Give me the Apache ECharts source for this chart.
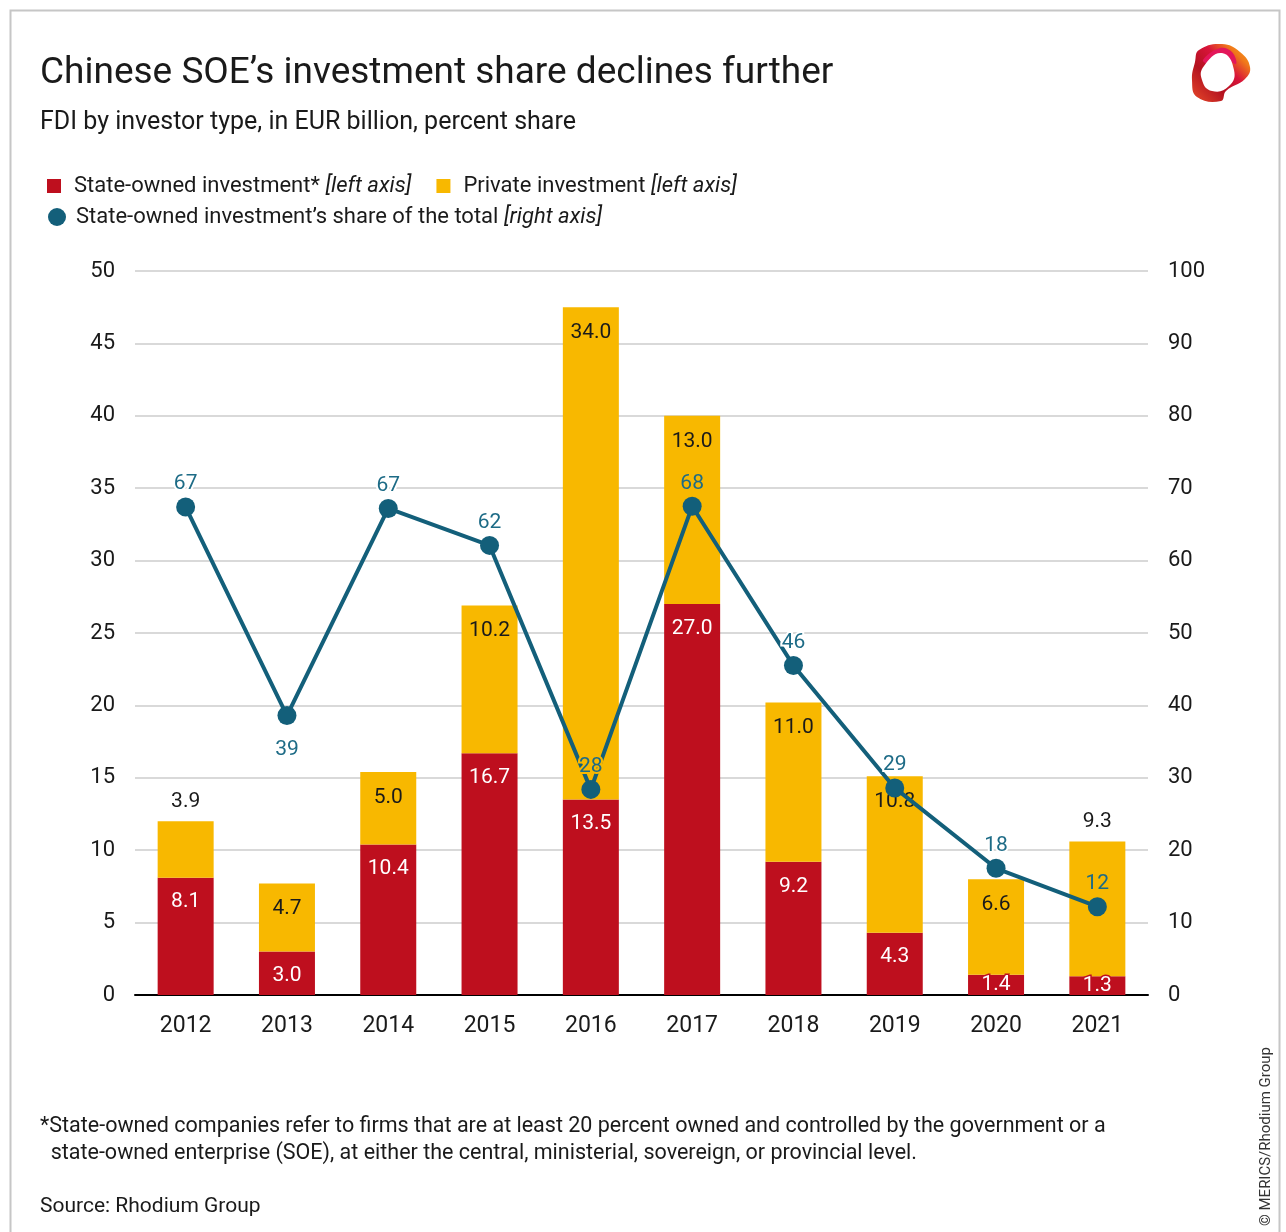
<!DOCTYPE html>
<html>
<head>
<meta charset="utf-8">
<script src="https://cdn.jsdelivr.net/npm/echarts@6/dist/echarts.min.js"></script>
<style>html,body{margin:0;padding:0;background:#fff}#c{width:1286px;height:1232px}</style>
</head>
<body>
<div id="c"></div>
<script>
const years = ['2012','2013','2014','2015','2016','2017','2018','2019','2020','2021'];
const stateOwned = [8.1, 3.0, 10.4, 16.7, 13.5, 27.0, 9.2, 4.3, 1.4, 1.3];
const privateInv = [3.9, 4.7, 5.0, 10.2, 34.0, 13.0, 11.0, 10.8, 6.6, 9.3];
const soeShare = [67.4, 38.6, 67.2, 62.1, 28.4, 67.5, 45.5, 28.6, 17.5, 12.2];
const leftTicks = [0, 50, 5];
const rightTicks = [0, 100, 10];

const RED = '#be0f1e', YEL = '#f8b800', TEAL = '#135f7a', TXT = '#1a1a1a';
const FONT = 'Roboto';

const chart = echarts.init(document.getElementById('c'), null, {renderer: 'canvas'});

const privateAbove = [true, false, false, false, false, false, false, false, false, true];
const smallState = [false, false, false, false, false, false, false, false, true, true];
const shareBelow = [false, true, false, false, false, false, false, false, false, false];
const shareHalo = ['#fff', '#fff', '#fff', '#fff', YEL, YEL, '#fff', '#fff', '#fff', YEL];

const legendRich = {
  a: {fontFamily: FONT, fontSize: 22, color: TXT},
  i: {fontFamily: FONT, fontSize: 22, color: TXT, fontStyle: 'italic'}
};

const option = {
  animation: false,
  backgroundColor: '#fff',
  textStyle: {fontFamily: FONT},
  title: [
    {text: 'Chinese SOE\u2019s investment share declines further', left: 40, top: 55, padding: 0,
     textStyle: {fontFamily: FONT, fontSize: 37, fontWeight: 'normal', color: TXT}},
    {text: 'FDI by investor type, in EUR billion, percent share', left: 40, top: 110, padding: 0,
     textStyle: {fontFamily: FONT, fontSize: 25, fontWeight: 'normal', color: TXT}},
    {text: '*State-owned companies refer to firms that are at least 20 percent owned and controlled by the government or a\n  state-owned enterprise (SOE), at either the central, ministerial, sovereign, or provincial level.',
     left: 40, top: 1113, padding: 0,
     textStyle: {fontFamily: FONT, fontSize: 21.5, fontWeight: 'normal', color: TXT, lineHeight: 27}},
    {text: 'Source: Rhodium Group', left: 40, top: 1196, padding: 0,
     textStyle: {fontFamily: FONT, fontSize: 21, fontWeight: 'normal', color: TXT}}
  ],
  legend: [
    {data: [{name: 'State-owned investment*', icon: 'rect'}, {name: 'Private investment', icon: 'rect'}],
     left: 47, top: 175, padding: 0, itemWidth: 14, itemHeight: 14, itemGap: 25, selectedMode: false,
     formatter: n => '{a|' + n + ' }{i|[left axis]}',
     textStyle: {padding: [0, 0, 0, 8], rich: legendRich}},
    {data: [{name: 'State-owned investment\u2019s share of the total', icon: 'circle'}],
     left: 48, top: 206, padding: 0, itemWidth: 18, itemHeight: 18, selectedMode: false,
     formatter: n => '{a|' + n + ' }{i|[right axis]}',
     textStyle: {padding: [0, 0, 0, 5], rich: legendRich}}
  ],
  grid: {left: 135, right: 138, top: 271, bottom: 237, containLabel: false},
  xAxis: {
    type: 'category', data: years,
    axisLine: {lineStyle: {color: '#000', width: 2}},
    axisTick: {show: false},
    axisLabel: {color: TXT, fontSize: 23, fontFamily: FONT, margin: 20}
  },
  yAxis: [
    {type: 'value', min: leftTicks[0], max: leftTicks[1], interval: leftTicks[2],
     axisLine: {show: false}, axisTick: {show: false},
     axisLabel: {color: TXT, fontSize: 22, fontFamily: FONT, margin: 20},
     splitLine: {lineStyle: {color: '#d9d9d9', width: 2}}},
    {type: 'value', min: rightTicks[0], max: rightTicks[1], interval: rightTicks[2],
     axisLine: {show: false}, axisTick: {show: false},
     axisLabel: {color: TXT, fontSize: 22, fontFamily: FONT, margin: 20},
     splitLine: {show: false}}
  ],
  series: [
    {name: 'State-owned investment*', type: 'bar', stack: 'fdi', barWidth: 56,
     itemStyle: {color: RED},
     data: stateOwned.map((v, i) => ({value: v, label: smallState[i] ?
        {position: 'inside', textBorderColor: RED, textBorderWidth: 3} : {}})),
     label: {show: true, position: 'insideTop', distance: 14, color: '#fff', fontSize: 21, fontFamily: FONT,
       formatter: p => p.value.toFixed(1)}},
    {name: 'Private investment', type: 'bar', stack: 'fdi', barWidth: 56,
     itemStyle: {color: YEL},
     data: privateInv.map((v, i) => ({value: v, label: privateAbove[i] ? {position: 'top', distance: 9} : {}})),
     label: {show: true, position: 'insideTop', distance: 15, color: TXT, fontSize: 21, fontFamily: FONT,
       formatter: p => p.value.toFixed(1)}},
    {name: 'State-owned investment\u2019s share of the total', type: 'line', yAxisIndex: 1, z: 5,
     symbol: 'circle', symbolSize: 19,
     itemStyle: {color: TEAL},
     lineStyle: {color: TEAL, width: 4},
     data: soeShare.map((v, i) => ({value: v, label: {
        position: shareBelow[i] ? 'bottom' : 'top', distance: shareBelow[i] ? 14 : 3,
        textBorderColor: shareHalo[i], textBorderWidth: 4}})),
     label: {show: true, color: '#1d6b86', fontSize: 21, fontFamily: FONT,
       formatter: p => String(Math.round(p.value))}}
  ],
  graphic: [
    {type: 'rect', shape: {x: 10.5, y: 10.5, width: 1269, height: 1260}, z: -10,
     style: {fill: 'none', stroke: '#c6c6c6', lineWidth: 2}},
    {type: 'polygon', z: 1,
     shape: {smooth: 0.45, points: [[1199, 50], [1222, 44], [1240, 52], [1250, 67], [1245, 79], [1226, 91],
       [1221, 101], [1197, 97], [1192, 80], [1195, 62]]},
     style: {fill: new echarts.graphic.LinearGradient(0, 1, 1, 0, [
       {offset: 0, color: '#e84a2a'}, {offset: 0.35, color: '#b3121f'},
       {offset: 0.6, color: '#d8143a'}, {offset: 0.8, color: '#f07a1a'}, {offset: 1, color: '#f7a21b'}])}},
    {type: 'polygon', z: 2,
     shape: {smooth: 0.4, points: [[1203, 60], [1220, 48], [1232, 52], [1236, 64], [1224, 58], [1210, 64]]},
     style: {fill: '#e3175a'}},
    {type: 'polygon', z: 3,
     shape: {smooth: 0.5, points: [[1204, 66], [1222, 53], [1234, 70], [1229, 86], [1212, 91], [1202, 80]]},
     style: {fill: '#fff'}},
    {type: 'text', x: 1266, y: 1226, rotation: Math.PI / 2,
     style: {text: '\u00a9 MERICS/Rhodium Group', fontFamily: FONT, fontSize: 15, fill: '#333',
       textAlign: 'left', textVerticalAlign: 'middle'}}
  ]
};
chart.setOption(option);
</script>
</body>
</html>
